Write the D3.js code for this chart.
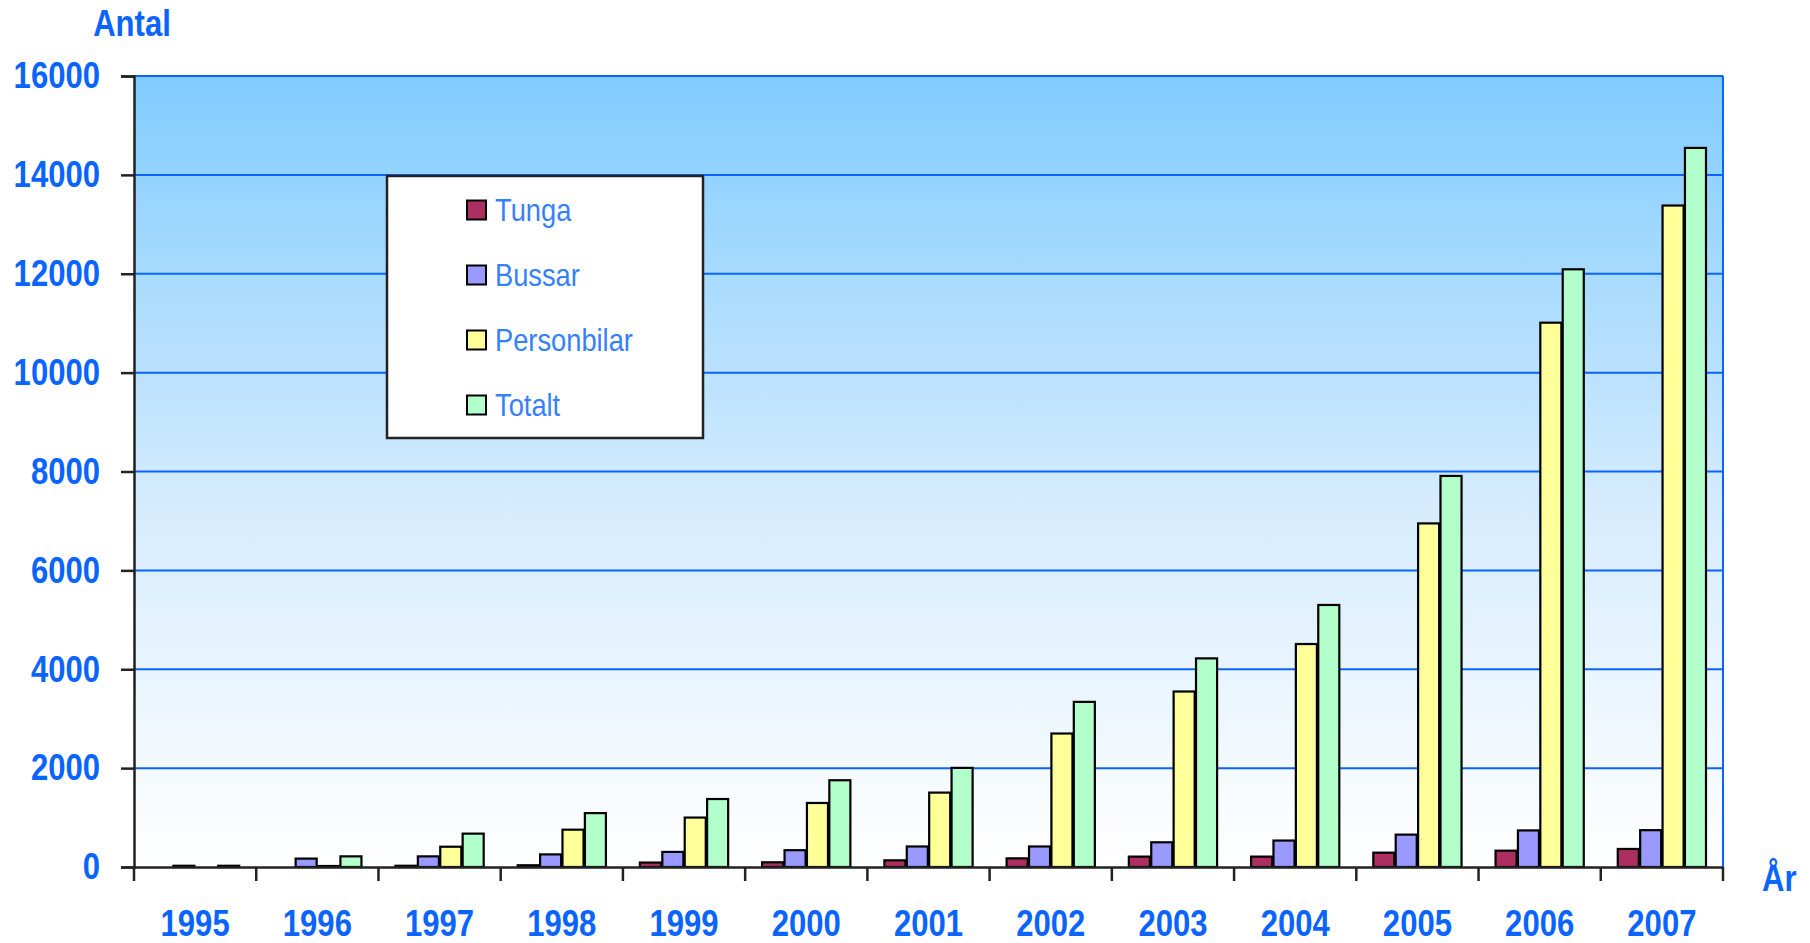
<!DOCTYPE html>
<html>
<head>
<meta charset="utf-8">
<script src="https://cdn.jsdelivr.net/npm/d3@7"></script>
<style>
  body { margin: 0; background: #fff; }
  .lbl { font-family: "Liberation Sans", Arial, sans-serif; }
</style>
</head>
<body>
<div id="chart"></div>
<script>
// data
var years = ["1995", "1996", "1997", "1998", "1999", "2000", "2001", "2002", "2003", "2004", "2005", "2006", "2007"];
var seriesNames = ["Tunga", "Bussar", "Personbilar", "Totalt"];
var tunga = [0, 0, 25, 35, 90, 95, 135, 175, 210, 210, 290, 330, 365];
var bussar = [25, 170, 215, 255, 305, 340, 415, 415, 500, 535, 655, 740, 745];
var personbilar = [0, 20, 410, 755, 1000, 1295, 1505, 2700, 3550, 4510, 6950, 11010, 13380];
var totalt = [25, 215, 675, 1090, 1375, 1755, 2005, 3340, 4220, 5300, 7910, 12090, 14545];
var yTicks = [0, 2000, 4000, 6000, 8000, 10000, 12000, 14000, 16000];

var colors = ["#ad2f62", "#9999ff", "#ffff99", "#b3ffcc"];
var blue = "#0a64ff";
// no narrow font installed, so squeeze Liberation Sans sideways
var squeeze = 0.84;

var svgWidth = 1810;
var svgHeight = 943;

var margin = { top: 76, right: 87, bottom: 76, left: 134 };
var width = svgWidth - margin.left - margin.right;
var height = svgHeight - margin.top - margin.bottom;

var svg = d3.select("#chart")
  .append("svg")
  .attr("width", svgWidth)
  .attr("height", svgHeight);

// background gradient of the plot area
var grad = svg.append("defs")
  .append("linearGradient")
  .attr("id", "bg")
  .attr("x1", 0).attr("y1", 0)
  .attr("x2", 0).attr("y2", 1);
grad.append("stop").attr("offset", "0%").attr("stop-color", "#80ccff");
grad.append("stop").attr("offset", "55%").attr("stop-color", "#d6ecfd");
grad.append("stop").attr("offset", "100%").attr("stop-color", "#ffffff");

var chartGroup = svg.append("g")
  .attr("transform", `translate(${margin.left}, ${margin.top})`);

chartGroup.append("rect")
  .attr("width", width)
  .attr("height", height)
  .attr("fill", "url(#bg)");

// scales
var x0 = d3.scaleBand()
  .domain(years)
  .range([0, width]);

var x1 = d3.scaleBand()
  .domain(seriesNames)
  .range([17, x0.bandwidth() - 17])
  .paddingInner(0.06);

var yLinearScale = d3.scaleLinear()
  .domain([0, 16000])
  .range([height, 0]);

// gridlines
chartGroup.selectAll(".grid")
  .data(yTicks.filter(d => d > 0))
  .enter()
  .append("line")
  .attr("x1", 0)
  .attr("x2", width)
  .attr("y1", d => yLinearScale(d))
  .attr("y2", d => yLinearScale(d))
  .attr("stroke", blue)
  .attr("stroke-width", 2);

// right border
chartGroup.append("line")
  .attr("x1", width).attr("x2", width)
  .attr("y1", 0).attr("y2", height)
  .attr("stroke", blue)
  .attr("stroke-width", 2);

// bars
var table = years.map(function(yr, i) {
  return {
    year: yr,
    values: [
      { key: "Tunga", v: tunga[i] },
      { key: "Bussar", v: bussar[i] },
      { key: "Personbilar", v: personbilar[i] },
      { key: "Totalt", v: totalt[i] }
    ]
  };
});

var yearGroups = chartGroup.selectAll(".year")
  .data(table)
  .enter()
  .append("g")
  .attr("transform", d => `translate(${x0(d.year)}, 0)`);

yearGroups.selectAll("rect")
  .data(d => d.values.filter(e => e.v > 0))
  .enter()
  .append("rect")
  .attr("x", d => x1(d.key))
  .attr("width", x1.bandwidth())
  .attr("y", d => yLinearScale(d.v))
  .attr("height", d => height - yLinearScale(d.v))
  .attr("fill", d => colors[seriesNames.indexOf(d.key)])
  .attr("stroke", "#000")
  .attr("stroke-width", 2.2);

// y axis
var leftAxis = d3.axisLeft(yLinearScale)
  .tickValues(yTicks)
  .tickSize(13)
  .tickPadding(21)
  .tickFormat(d3.format("d"));

var yAxis = chartGroup.append("g").call(leftAxis);
yAxis.select(".domain").attr("stroke", "#222").attr("stroke-width", 2.5);
yAxis.selectAll(".tick line").attr("stroke", "#222").attr("stroke-width", 2.5);
yAxis.selectAll("text")
  .attr("class", "lbl")
  .attr("fill", blue)
  .attr("font-size", "37px")
  .attr("font-weight", "bold")
  .attr("x", -34 / squeeze)
  .attr("transform", `scale(${squeeze}, 1)`);

// x axis
var bottomAxis = d3.axisBottom(x0)
  .tickSize(0)
  .tickPadding(43);

var xAxis = chartGroup.append("g")
  .attr("transform", `translate(0, ${height})`)
  .call(bottomAxis);
xAxis.select(".domain").attr("stroke", "#222").attr("stroke-width", 2.5);
xAxis.selectAll("text")
  .attr("class", "lbl")
  .attr("fill", blue)
  .attr("font-size", "37px")
  .attr("font-weight", "bold")
  .attr("transform", `scale(${squeeze}, 1)`);

// tick marks between the years
var boundaries = years.map(d => x0(d)).concat([width]);
xAxis.selectAll(".sep")
  .data(boundaries)
  .enter()
  .append("line")
  .attr("x1", d => d).attr("x2", d => d)
  .attr("y1", 0).attr("y2", 14)
  .attr("stroke", "#222")
  .attr("stroke-width", 2.5);

// axis titles
svg.append("text")
  .attr("class", "lbl")
  .attr("x", 132 / squeeze)
  .attr("y", 36)
  .attr("transform", `scale(${squeeze}, 1)`)
  .attr("text-anchor", "middle")
  .attr("font-size", "37px")
  .attr("font-weight", "bold")
  .attr("fill", blue)
  .text("Antal");

svg.append("text")
  .attr("class", "lbl")
  .attr("x", 1762 / squeeze)
  .attr("y", 891)
  .attr("transform", `scale(${squeeze}, 1)`)
  .attr("font-size", "37px")
  .attr("font-weight", "bold")
  .attr("fill", blue)
  .text("År");

// legend
var legend = svg.append("g")
  .attr("transform", "translate(387, 176)");

legend.append("rect")
  .attr("width", 316)
  .attr("height", 262)
  .attr("fill", "#fff")
  .attr("stroke", "#222")
  .attr("stroke-width", 2.5);

var legendY = d3.scalePoint()
  .domain(seriesNames)
  .range([34, 229]);

var items = legend.selectAll(".item")
  .data(seriesNames)
  .enter()
  .append("g")
  .attr("transform", d => `translate(80, ${legendY(d)})`);

items.append("rect")
  .attr("x", 0)
  .attr("y", -9.5)
  .attr("width", 19)
  .attr("height", 19)
  .attr("fill", (d, i) => colors[i])
  .attr("stroke", "#000")
  .attr("stroke-width", 2);

items.append("text")
  .attr("class", "lbl")
  .attr("x", 28 / 0.88)
  .attr("y", 11)
  .attr("transform", "scale(0.88, 1)")
  .attr("font-size", "31px")
  .attr("fill", "#3580ff")
  .text(d => d);
</script>
</body>
</html>
